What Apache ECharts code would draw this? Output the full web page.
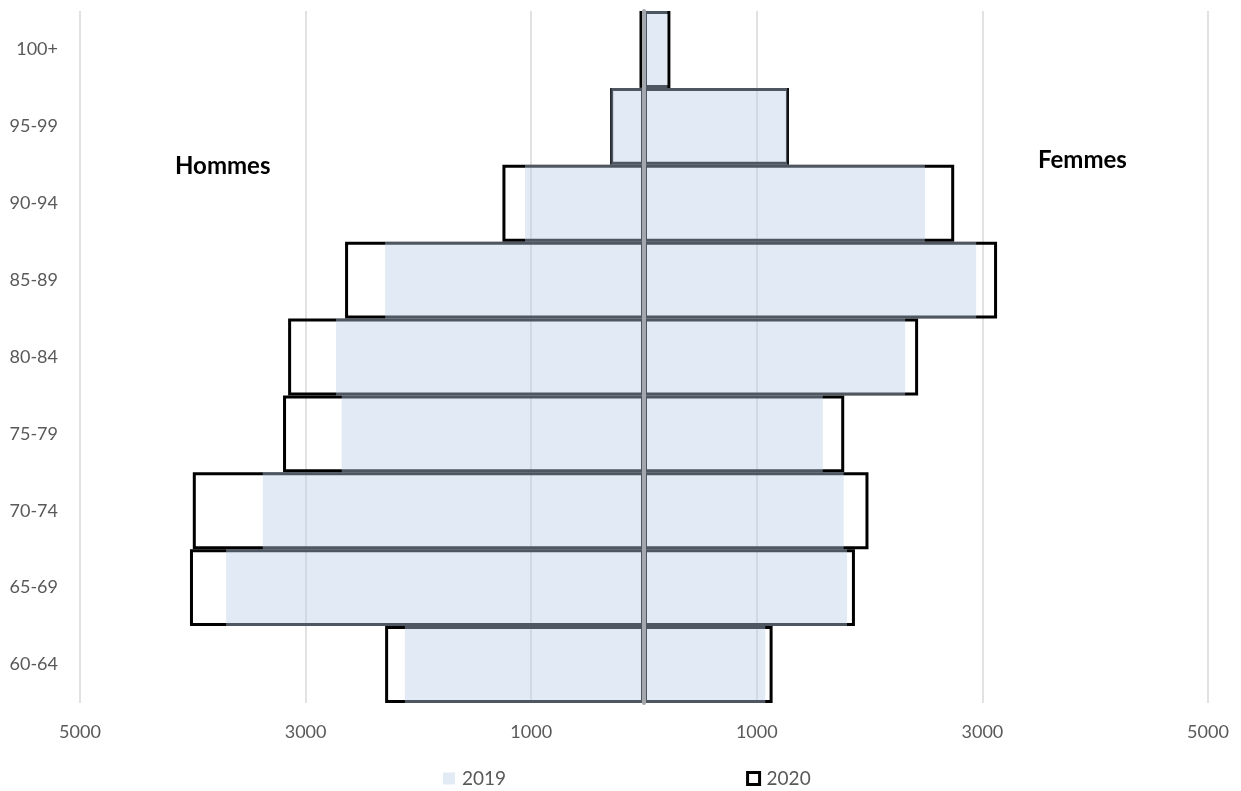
<!DOCTYPE html>
<html>
<head>
<meta charset="utf-8">
<script src="https://cdn.jsdelivr.net/npm/echarts@6/dist/echarts.min.js"></script>
<style>
html,body{margin:0;padding:0;background:#fff;}
#chart{width:1241px;height:791px;}
</style>
</head>
<body>
<div id="chart"></div>
<script>
const categories = ['60-64','65-69','70-74','75-79','80-84','85-89','90-94','95-99','100+'];
const men2019   = [2120, 3705, 3380, 2680, 2730, 2295, 1055, 290, 15];
const men2020   = [2295, 4025, 4000, 3200, 3155, 2650, 1255, 300, 40];
const women2019 = [1075, 1800, 1770, 1585, 2315, 2945, 2490, 1270, 207];
const women2020 = [1140, 1870, 1990, 1775, 2430, 3130, 2750, 1285, 234];
const xTicks = { min: -5000, max: 5000, interval: 2000 };
const labelMen = 'Hommes';
const labelWomen = 'Femmes';

const FONT = 'Lato';
const fill2019 = 'rgba(185,204,231,0.42)';

const chart = echarts.init(document.getElementById('chart'), null, { renderer: 'canvas' });

const common = { type: 'bar', barGap: '-100%', barCategoryGap: '0%' };
const style2020 = { color: 'rgba(0,0,0,0)', borderColor: '#000', borderWidth: 3 };
const style2019 = { color: fill2019, borderWidth: 0 };

chart.setOption({
  animation: false,
  grid: { left: 80, right: 33, top: 11, bottom: 88, containLabel: false },
  xAxis: {
    type: 'value',
    min: xTicks.min, max: xTicks.max, interval: xTicks.interval,
    axisLine: { show: false }, axisTick: { show: false },
    splitLine: { show: true, lineStyle: { color: '#d9d9d9', width: 1.5 } },
    axisLabel: { color: '#595959', fontSize: 18, fontFamily: FONT, margin: 20,
      formatter: v => String(Math.abs(v)) }
  },
  yAxis: [
    {
      type: 'category', data: categories,
      axisLine: { show: false }, axisTick: { show: false }, splitLine: { show: false },
      axisLabel: { color: '#595959', fontSize: 18, fontFamily: FONT, margin: 22 }
    },
    {
      type: 'category', data: categories, z: 10,
      axisLine: { show: true, onZero: true, onZeroAxisIndex: 0, lineStyle: { color: '#a4a7ab', width: 4 } },
      axisTick: { show: false }, splitLine: { show: false }, axisLabel: { show: false }
    }
  ],
  legend: {
    data: [
      { name: '2019', itemStyle: { color: fill2019, borderWidth: 0 } },
      { name: '2020', itemStyle: { color: 'rgba(0,0,0,0)', borderColor: '#000', borderWidth: 3 } }
    ],
    left: 438, top: 764, itemWidth: 12, itemHeight: 12, itemGap: 240,
    icon: 'rect', selectedMode: false,
    textStyle: { color: '#595959', fontSize: 19, fontFamily: FONT, padding: [0,0,0,2] }
  },
  graphic: [
    { type: 'text', left: 175, top: 154, style: { text: labelMen, font: 'bold 24px Lato', fill: '#000' } },
    { type: 'text', left: 1038, top: 148, style: { text: labelWomen, font: 'bold 24px Lato', fill: '#000' } }
  ],
  series: [
    Object.assign({}, common, { name: '2020', data: men2020.map(v => -v), itemStyle: style2020 }),
    Object.assign({}, common, { name: '2020', data: women2020, itemStyle: style2020 }),
    Object.assign({}, common, { name: '2019', data: men2019.map(v => -v), itemStyle: style2019 }),
    Object.assign({}, common, { name: '2019', data: women2019, itemStyle: style2019 })
  ]
});
</script>
</body>
</html>
